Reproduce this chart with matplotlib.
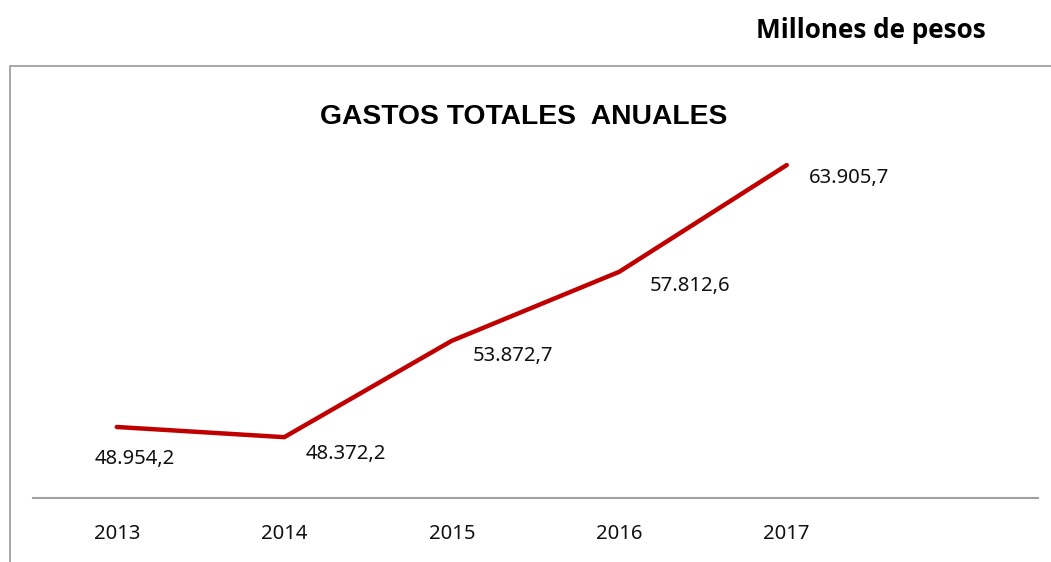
import matplotlib.pyplot as plt
from matplotlib.patches import Rectangle

# datos
years = ["2013", "2014", "2015", "2016", "2017"]
gastos = [48954.2, 48372.2, 53872.7, 57812.6, 63905.7]
etiquetas = ["48.954,2", "48.372,2", "53.872,7", "57.812,6", "63.905,7"]

# desplazamiento de las etiquetas (puntos)
offsets = [(13, -23), (44, -12), (44, -11), (51, -10), (45, -9)]

W, H = 1051, 562
fig = plt.figure(figsize=(W / 100, H / 100), dpi=100)

# marco del grafico (se sale por la derecha y por abajo)
fig.patches.append(Rectangle((9.5 / W, -0.1), 1.2, (H - 66) / H + 0.1,
                             transform=fig.transFigure, fill=False,
                             edgecolor="#A0A0A0", linewidth=1.3))

ax = fig.add_axes([33 / W, (H - 498) / H, 1005 / W, 432 / H])
x = list(range(len(years)))
ax.plot(x, gastos, color="#C00000", linewidth=3.2, solid_capstyle="round")
ax.set_xlim(-0.5, 5.5)
ax.set_ylim(44900, 69560)

for xi, v, lab, off in zip(x, gastos, etiquetas, offsets):
    ax.annotate(lab, (xi, v), xytext=off, textcoords="offset points",
                ha="center", va="center", fontsize=14.6, family="Noto Sans",
                color="#111111")

for s in ["top", "right", "left"]:
    ax.spines[s].set_visible(False)
ax.spines["bottom"].set_color("#A0A0A0")
ax.spines["bottom"].set_linewidth(1.5)
ax.set_yticks([])
ax.set_xticks(x)
ax.set_xticklabels(years, family="Noto Sans", fontsize=14.6, color="#111111")
ax.tick_params(axis="x", length=0, pad=19)

fig.text(524 / W, 1 - 117 / H, "GASTOS TOTALES  ANUALES", ha="center",
         va="center", fontsize=20.3, fontweight="bold", family="Liberation Sans")
fig.text(871 / W, 1 - 30 / H, "Millones de pesos", ha="center", va="center",
         fontsize=18.8, fontweight="bold", family="Open Sans")

fig.savefig("out.png", dpi=100, facecolor="white")
